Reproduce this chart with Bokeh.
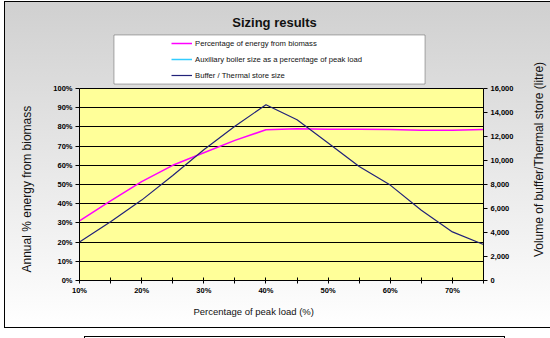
from math import pi

from bokeh.embed import file_html
from bokeh.layouts import row
from bokeh.models import (BoxAnnotation, FixedTicker, Label, Legend, LegendItem,
                          LinearAxis, NumeralTickFormatter, PrintfTickFormatter,
                          Range1d, Title)
from bokeh.plotting import figure
from bokeh.resources import INLINE

NAN = float("nan")

# Auxiliary boiler size as a percentage of peak load (x) against results
load_pct = [10, 15, 20, 25, 30, 35, 40, 45, 50, 55, 60, 65, 70, 75]
# Annual share of energy supplied by biomass (%)
biomass_pct = [31.0, 41.5, 51.5, 60.0, 66.5, 73.0, 78.5, 79.0, 78.8, 78.8,
               78.6, 78.3, 78.3, 78.6]
# Required buffer / thermal store volume (litre)
store_litres = [3200, 4900, 6700, 8750, 10900, 12850, 14650, 13400, 11450,
                9500, 7950, 5850, 4050, 3000]
# Auxiliary boiler series: no plotted values, it only appears in the key
aux_boiler_pct = [NAN]

pct_ticks = list(range(0, 101, 10))
litre_ticks = list(range(0, 16001, 2000))
x_major = list(range(10, 71, 10))
x_minor = list(range(15, 76, 10))

FONT = "Liberation Sans"
W, H = 528, 338          # main chart; a 22 px strip to its right holds the right axis title
SIDE_W = 550 - W
FL, FR, FT, FB = 79, 483, 5, 280   # frame edges on the canvas
PLOT_TOP = 88                      # canvas y of the 100% line

# the frame reaches up to the title; the data area ends at 100% / 16,000 l
pct_top = 100 * (FB - FT) / (FB - PLOT_TOP)
litre_top = 16000 * (FB - FT) / (FB - PLOT_TOP)

p = figure(width=W, height=H, x_range=Range1d(10, 75), y_range=Range1d(0, pct_top),
           output_backend="svg", toolbar_location=None, title_location=None,
           min_border_left=FL, min_border_right=W - FR,
           min_border_top=FT, min_border_bottom=H - FB)
p.extra_y_ranges = {"vol": Range1d(0, litre_top)}

# grey-to-white shaded chart panel with its frame, and the box beneath it
line = "linear-gradient(#000,#000)"
shade = "linear-gradient(to bottom, #d0d0d0, #ffffff)"
p.styles = {
    "background": ", ".join([
        f"{line} 4px 1px / 1px 327px no-repeat",
        f"{line} 4px 1px / {W - 4}px 1px no-repeat",
        f"{line} 4px 327px / {W - 4}px 1px no-repeat",
        f"{line} 84px 336px / 421px 1px no-repeat",
        f"{line} 84px 336px / 1px 2px no-repeat",
        f"{line} 504px 336px / 1px 2px no-repeat",
        f"{shade} 5px 2px / {W - 5}px 325px no-repeat",
        "#ffffff",
    ])
}
p.border_fill_alpha = 0
p.background_fill_alpha = 0
p.outline_line_color = None


def canvas_box(x0, y0, x1, y1, **kw):
    """Box given in canvas pixels (y downwards), placed in frame screen units."""
    return BoxAnnotation(left=x0 - FL, right=x1 - FL, top=FB - y0, bottom=FB - y1,
                         left_units="screen", right_units="screen",
                         top_units="screen", bottom_units="screen", **kw)


# pale yellow plot area
p.add_layout(BoxAnnotation(left=10, right=75, bottom=0, top=100,
                           fill_color="#ffff99", fill_alpha=1,
                           line_color="black", line_width=1, level="image"))

# series
r_bio = p.line(load_pct, biomass_pct, line_color="#ff00ff", line_width=1.5)
r_aux = p.line(x=[NAN], y=aux_boiler_pct, line_color="#33ccff", line_width=1.5)
r_store = p.line(load_pct, store_litres, y_range_name="vol",
                 line_color="#22227a", line_width=1.2)

# axes
tick_font = dict(major_label_text_font=FONT, major_label_text_font_size="7.5px",
                 major_label_text_font_style="bold", major_label_text_color="black",
                 axis_line_color="black", major_tick_line_color="black")

xa = p.xaxis[0]
xa.ticker = FixedTicker(ticks=x_major, minor_ticks=x_minor)
xa.formatter = PrintfTickFormatter(format="%d%%")
xa.major_tick_in = 3
xa.major_tick_out = 3
xa.minor_tick_in = 3
xa.minor_tick_out = 3
xa.minor_tick_line_color = "black"
xa.major_label_standoff = 2
for k, v in tick_font.items():
    setattr(xa, k, v)

ya = p.yaxis[0]
ya.ticker = FixedTicker(ticks=pct_ticks)
ya.formatter = PrintfTickFormatter(format="%d%%")
ya.bounds = (0, 100)
ya.major_tick_in = 0
ya.major_tick_out = 4
ya.major_label_standoff = 3
for k, v in tick_font.items():
    setattr(ya, k, v)
ya.minor_tick_line_color = None

right = LinearAxis(y_range_name="vol", ticker=FixedTicker(ticks=litre_ticks),
                   formatter=NumeralTickFormatter(format="0,0"), bounds=(0, 16000),
                   major_tick_in=0, major_tick_out=4, major_label_standoff=3,
                   **tick_font)
right.minor_tick_line_color = None
p.add_layout(right, "right")

p.xgrid.grid_line_color = None
p.ygrid.ticker = FixedTicker(ticks=pct_ticks)
p.ygrid.grid_line_color = "black"
p.ygrid.grid_line_width = 1

# axis titles
p.add_layout(Title(text="Annual % energy from biomass", align="left",
                   offset=8, standoff=33, text_font=FONT, text_font_size="12px",
                   text_font_style="normal", text_color="#111111"), "left")
p.add_layout(Title(text="Percentage of peak load (%)", align="left",
                   offset=114, standoff=12, text_font=FONT, text_font_size="9.5px",
                   text_font_style="normal", text_color="#111111"), "below")

# chart title
p.add_layout(Label(x=274 - FL, y=FB - 22, x_units="screen", y_units="screen",
                   text="Sizing results", text_font=FONT, text_font_size="13px",
                   text_font_style="bold", text_color="#111111",
                   text_align="center", text_baseline="middle"))

# key
p.add_layout(canvas_box(113.5, 34.5, 424.5, 83.5, fill_color="white", fill_alpha=1,
                        line_color="black", line_width=1, level="annotation"))
legend = Legend(items=[
    LegendItem(label="Percentage of energy from biomass", renderers=[r_bio]),
    LegendItem(label="Auxiliary boiler size as a percentage of peak load", renderers=[r_aux]),
    LegendItem(label="Buffer / Thermal store size", renderers=[r_store]),
], location=(171 - FL, FB - 81))
legend.background_fill_alpha = 0
legend.border_line_alpha = 0
legend.padding = 0
legend.margin = 0
legend.spacing = 4
legend.glyph_width = 21
legend.glyph_height = 12
legend.label_height = 12
legend.label_standoff = 3
legend.label_text_font = FONT
legend.label_text_font_size = "7.7px"
legend.label_text_color = "#111111"
p.add_layout(legend)

# strip on the right carrying the secondary axis title, read bottom to top
side = figure(width=SIDE_W, height=H, x_range=Range1d(0, SIDE_W), y_range=Range1d(0, H),
              output_backend="svg", toolbar_location=None, title_location=None,
              x_axis_type=None, y_axis_type=None,
              min_border_left=0, min_border_right=0, min_border_top=0, min_border_bottom=0)
side.grid.visible = False
side.outline_line_color = None
side.border_fill_alpha = 0
side.background_fill_alpha = 0
side.styles = {
    "background": ", ".join([
        f"{line} 0px 1px / {SIDE_W}px 1px no-repeat",
        f"{line} 0px 327px / {SIDE_W}px 1px no-repeat",
        f"{shade} 0px 2px / {SIDE_W}px 325px no-repeat",
        "#ffffff",
    ])
}
side.add_layout(Label(x=538 - W, y=H - 168 - 49, x_units="screen", y_units="screen",
                      angle=pi / 2, text="Volume of buffer/Thermal store (litre)",
                      text_font=FONT, text_font_size="12px", text_color="#111111",
                      text_align="center", text_baseline="middle"))

layout = row(p, side, spacing=0)
open("out.html", "w").write(file_html(layout, INLINE))
